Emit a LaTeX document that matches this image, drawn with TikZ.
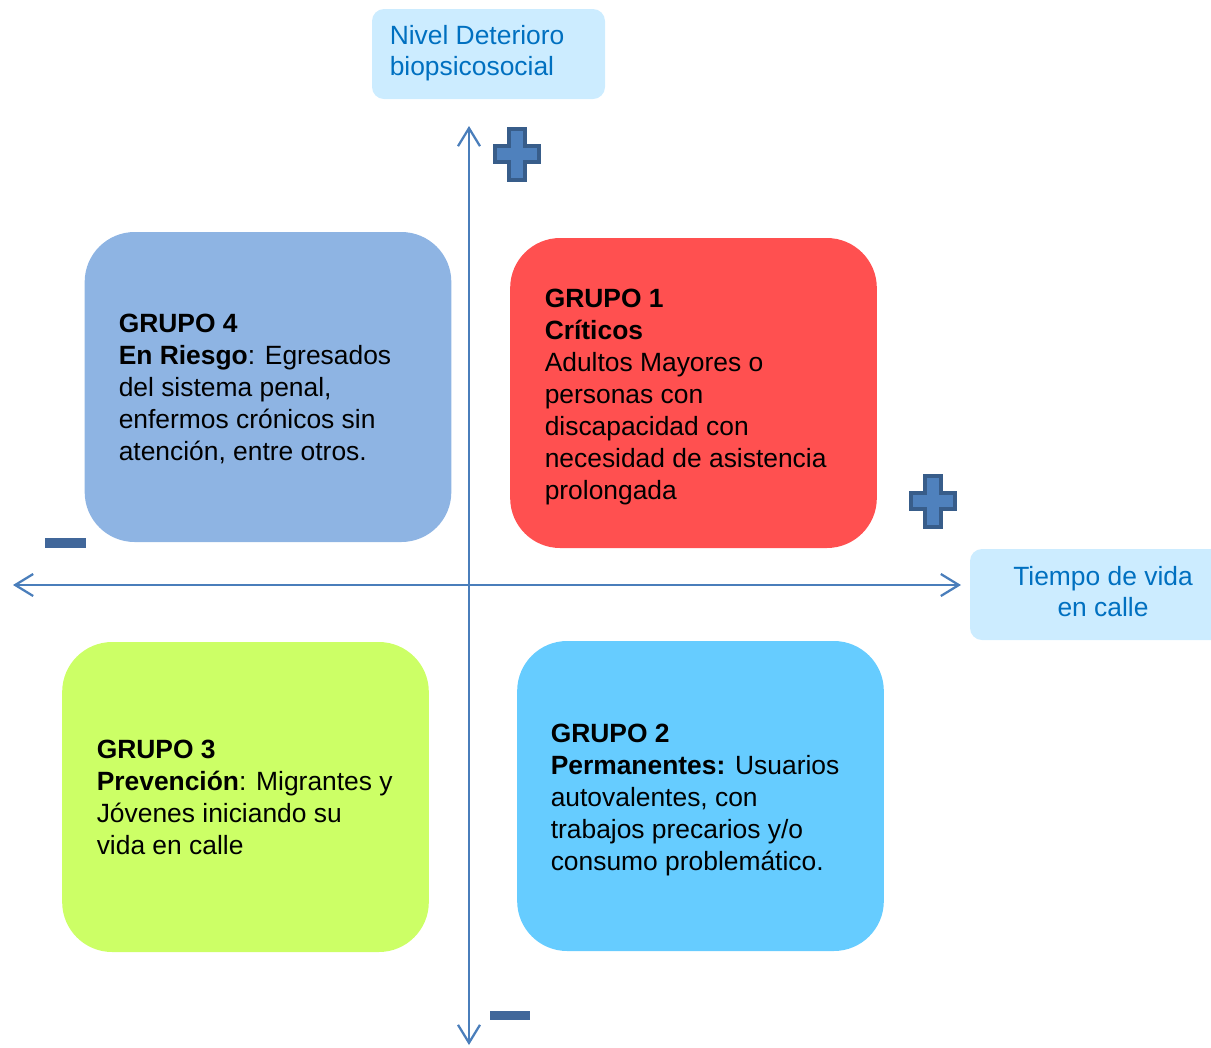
\documentclass[tikz,border=0pt]{standalone}
\usepackage{fontspec}
\setmainfont{Liberation Sans}
\usetikzlibrary{arrows.meta}
\definecolor{axisblue}{HTML}{4A7EBB}
\definecolor{markfill}{HTML}{4F81BD}
\definecolor{markline}{HTML}{385D8A}
\definecolor{minusfill}{HTML}{41679A}
\definecolor{labelfill}{HTML}{CCECFF}
\definecolor{labeltext}{HTML}{0070C0}
\definecolor{gfour}{HTML}{8EB4E3}
\definecolor{gone}{HTML}{FF5050}
\definecolor{gthree}{HTML}{CCFF66}
\definecolor{gtwo}{HTML}{66CCFF}
\tikzset{
  groupbox/.style={draw=none, rounded corners=37.5pt, minimum width=275pt, minimum height=232.5pt, inner sep=0pt},
  labelbox/.style={draw=none, fill=labelfill, rounded corners=9pt, inner sep=0pt},
  txt/.style={inner sep=0pt, align=left, font=\fontsize{19.8}{24}\selectfont, text=black},
  labeltxt/.style={inner sep=0pt, font=\fontsize{19.8}{23.25}\selectfont, text=labeltext},
  axis/.style={draw=axisblue, line width=1.5pt, {Straight Barb[length=13.5pt,width=16.5pt,line width=1.7pt]}-{Straight Barb[length=13.5pt,width=16.5pt,line width=1.7pt]}},
  plusmark/.pic={
    \path[fill=markfill, draw=markline, line width=3pt]
      (-8,-25.5) -- (8,-25.5) -- (8,-8) -- (22,-8) -- (22,8) -- (8,8)
      -- (8,25.5) -- (-8,25.5) -- (-8,8) -- (-22,8) -- (-22,-8) -- (-8,-8) -- cycle;
  },
}
\begin{document}
\begin{tikzpicture}[x=0.75pt,y=-0.75pt]
\useasboundingbox (0,0) rectangle (1211,1047);

% group boxes
\node[groupbox, fill=gfour] (g4) at (268,387) {};
\node[groupbox, fill=gone] (g1) at (693.5,393) {};
\node[groupbox, fill=gthree] (g3) at (245.5,797) {};
\node[groupbox, fill=gtwo] (g2) at (700.5,796) {};

% label boxes
\node[labelbox, minimum width=174.75pt, minimum height=67.5pt] (ylab) at (488.5,54) {};
\node[labelbox, minimum width=195pt, minimum height=68.25pt] (xlab) at (1100,594.5) {};

\node[labeltxt, align=left, anchor=north west] (ylabt) at (389.5,25) {Nivel Deterioro\\biopsicosocial};
\node[labeltxt, align=center, anchor=north] (xlabt) at (1103,566.5) {Tiempo de vida\\en calle};

% group texts
\node[txt, anchor=north west] (g4t) at (118.5,313.5) {\textbf{GRUPO 4}\\\textbf{En Riesgo}: Egresados\\del sistema penal,\\enfermos crónicos sin\\atención, entre otros.};
\node[txt, anchor=north west] (g1t) at (544.5,288.5) {\textbf{GRUPO 1}\\\textbf{Críticos}\\Adultos Mayores o\\personas con\\discapacidad con\\necesidad de asistencia\\prolongada};
\node[txt, anchor=north west] (g3t) at (96.5,739.5) {\textbf{GRUPO 3}\\\textbf{Prevención}: Migrantes y\\Jóvenes iniciando su\\vida en calle};
\node[txt, anchor=north west] (g2t) at (550.5,723.5) {\textbf{GRUPO 2}\\\textbf{Permanentes:} Usuarios\\autovalentes, con\\trabajos precarios y/o\\consumo problemático.};

% axes
\coordinate (vtop) at (469,126);
\coordinate (vbot) at (469,1045);
\coordinate (hleft) at (13,585);
\coordinate (hright) at (961,585);
\draw[axis] (vbot) -- (vtop);
\draw[axis] (hleft) -- (hright);

% plus and minus marks
\pic at (517,154) {plusmark};
\pic at (933,501) {plusmark};
\fill[minusfill] (45,537.5) rectangle (86,547.5);
\fill[minusfill] (490,1011) rectangle (530,1019.5);
\end{tikzpicture}
\end{document}
